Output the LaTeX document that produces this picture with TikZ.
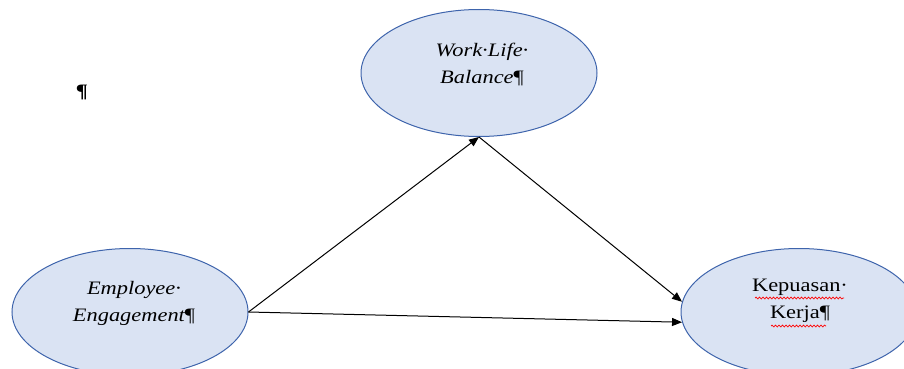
\documentclass[tikz,border=0pt]{standalone}
\usepackage{fontspec}
\setmainfont{Liberation Serif}
\newfontfamily\wfont[FakeStretch=1.18]{Liberation Serif}
\usetikzlibrary{arrows.meta,shapes.geometric,decorations.pathmorphing}
\definecolor{ellfill}{RGB}{218,227,243}
\definecolor{elldraw}{RGB}{62,100,172}
\tikzset{
  var/.style={ellipse, draw=elldraw, fill=ellfill, line width=1pt,
    minimum width=236pt, minimum height=127pt, inner sep=0pt},
  lbl/.style={align=center, inner sep=0pt,
    font=\wfont\fontsize{19}{26.5}\selectfont},
  conn/.style={line width=1pt, -{Triangle[length=10pt,width=8pt]}},
  spell/.style={draw=red, line width=0.7pt,
    decorate, decoration={snake, amplitude=0.9pt, segment length=3.5pt}}
}
\begin{document}
\begin{tikzpicture}[x=1pt,y=-1pt]
\clip (0,0) rectangle (904,369);
\useasboundingbox (0,0) rectangle (904,369);
\node[var] (wlb) at (479,73) {};
\node[var] (ee) at (130,312) {};
\node[var] (kk) at (799,312) {};
\node[lbl] (wlbt) at (482,64.5) {\itshape Work·Life·\\\itshape Balance{\upshape ¶}};
\node[lbl] (eet) at (134,303.5) {\itshape Employee·\\\itshape Engagement{\upshape ¶}};
\node[lbl] (kkt) at (800,301) {Kepuasan·\\Kerja¶};
\node[lbl] (para) at (82,92) {\bfseries ¶};
\draw[spell] (755,298) -- (844,298);
\draw[spell] (771,326) -- (826,326);
\draw[conn] (ee.east) -- (wlb.south);
\draw[conn] (wlb.south) -- (kk.175);
\draw[conn] (ee.east) -- (kk.185);
\end{tikzpicture}
\end{document}
